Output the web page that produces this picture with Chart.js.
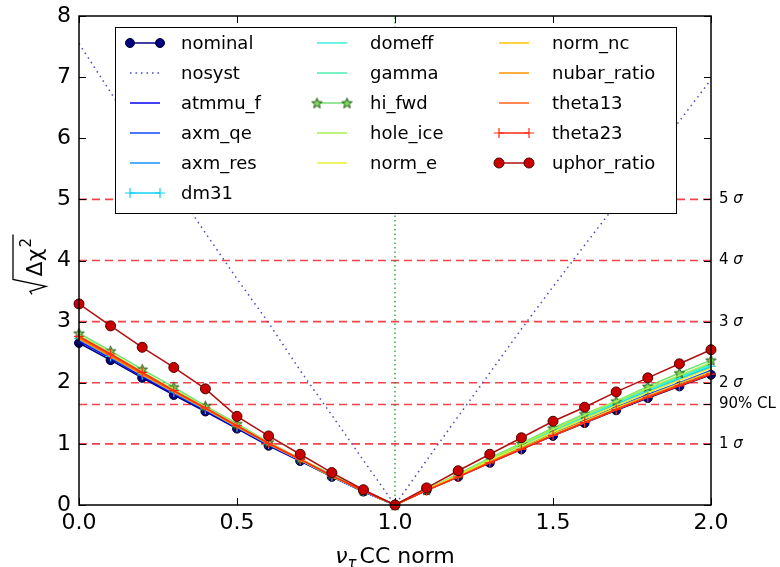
<!DOCTYPE html>
<html>
<head>
<title>nu_tau CC norm scan</title>
<script src="https://cdn.jsdelivr.net/npm/chart.js"></script>
<style>
  html, body { margin: 0; padding: 0; background: #fff; }
  #wrap { width: 780px; height: 567px; }
</style>
</head>
<body>
<div id="wrap"><canvas id="scan" width="780" height="567"></canvas></div>
<script>
// scan points on the nu_tau CC normalisation
const xValues = [0.0, 0.1, 0.2, 0.3, 0.4, 0.5, 0.6, 0.7, 0.8, 0.9, 1.0, 1.1, 1.2, 1.3, 1.4, 1.5, 1.6, 1.7, 1.8, 1.9, 2.0];

// sqrt(delta chi2) per systematic
const nominal     = [2.65, 2.37, 2.08, 1.80, 1.53, 1.25, 0.97, 0.72, 0.46, 0.22, 0, 0.24, 0.46, 0.69, 0.91, 1.13, 1.34, 1.55, 1.75, 1.94, 2.13];
const nosyst      = [7.55, 6.75, 5.98, 5.22, 4.45, 3.70, 2.98, 2.20, 1.47, 0.73, 0, 0.73, 1.45, 2.16, 2.88, 3.57, 4.25, 4.92, 5.60, 6.28, 6.96];
const atmmu_f     = [2.68, 2.40, 2.10, 1.82, 1.55, 1.26, 0.98, 0.73, 0.47, 0.22, 0, 0.24, 0.47, 0.70, 0.92, 1.15, 1.36, 1.57, 1.77, 1.97, 2.16];
const axm_qe      = [2.70, 2.41, 2.12, 1.83, 1.56, 1.27, 0.99, 0.73, 0.47, 0.22, 0, 0.25, 0.48, 0.71, 0.94, 1.17, 1.38, 1.60, 1.81, 2.00, 2.20];
const axm_res     = [2.71, 2.42, 2.13, 1.84, 1.56, 1.28, 0.99, 0.74, 0.47, 0.22, 0, 0.25, 0.49, 0.73, 0.96, 1.19, 1.42, 1.64, 1.85, 2.05, 2.25];
const dm31        = [2.72, 2.43, 2.13, 1.85, 1.57, 1.28, 1.00, 0.74, 0.47, 0.23, 0, 0.26, 0.49, 0.74, 0.97, 1.20, 1.43, 1.65, 1.86, 2.07, 2.27];
const domeff      = [2.74, 2.45, 2.15, 1.86, 1.58, 1.29, 1.00, 0.74, 0.48, 0.23, 0, 0.26, 0.49, 0.74, 0.98, 1.21, 1.44, 1.67, 1.88, 2.09, 2.29];
const gamma       = [2.76, 2.47, 2.17, 1.87, 1.59, 1.30, 1.01, 0.75, 0.48, 0.23, 0, 0.26, 0.50, 0.75, 0.99, 1.23, 1.45, 1.68, 1.90, 2.10, 2.31];
const hi_fwd      = [2.81, 2.52, 2.22, 1.93, 1.62, 1.33, 1.03, 0.76, 0.50, 0.24, 0, 0.25, 0.51, 0.77, 1.01, 1.26, 1.49, 1.70, 1.94, 2.16, 2.37];
const hole_ice    = [2.78, 2.49, 2.18, 1.89, 1.60, 1.31, 1.02, 0.76, 0.48, 0.23, 0, 0.26, 0.50, 0.75, 1.00, 1.24, 1.47, 1.70, 1.91, 2.12, 2.33];
const norm_e      = [2.75, 2.46, 2.16, 1.87, 1.59, 1.30, 1.01, 0.75, 0.48, 0.23, 0, 0.25, 0.48, 0.73, 0.96, 1.19, 1.41, 1.63, 1.84, 2.04, 2.24];
const norm_nc     = [2.73, 2.44, 2.14, 1.85, 1.58, 1.29, 1.00, 0.74, 0.47, 0.23, 0, 0.25, 0.47, 0.71, 0.93, 1.16, 1.37, 1.59, 1.79, 1.99, 2.18];
const nubar_ratio = [2.72, 2.43, 2.13, 1.85, 1.57, 1.28, 1.00, 0.74, 0.47, 0.23, 0, 0.24, 0.46, 0.70, 0.92, 1.14, 1.35, 1.56, 1.77, 1.96, 2.15];
const theta13     = [2.74, 2.45, 2.15, 1.86, 1.58, 1.29, 1.00, 0.74, 0.48, 0.23, 0, 0.24, 0.46, 0.70, 0.92, 1.14, 1.35, 1.56, 1.77, 1.96, 2.15];
const theta23     = [2.76, 2.47, 2.17, 1.87, 1.59, 1.30, 1.01, 0.75, 0.48, 0.23, 0, 0.24, 0.46, 0.69, 0.91, 1.14, 1.35, 1.56, 1.76, 1.95, 2.14];
const uphor_ratio = [3.29, 2.93, 2.58, 2.25, 1.90, 1.45, 1.13, 0.83, 0.53, 0.25, 0, 0.28, 0.56, 0.83, 1.10, 1.37, 1.60, 1.85, 2.08, 2.31, 2.54];

// significance lines and their labels on the right
const sigmaLevels = [1, 1.645, 2, 3, 4, 5];
const sigmaLabels = ['1 σ', '90% CL', '2 σ', '3 σ', '4 σ', '5 σ'];
const bestFit = 1.0;

const xTicks = [0, 0.5, 1, 1.5, 2];
const yTicks = [0, 1, 2, 3, 4, 5, 6, 7, 8];

const FONT = 'DejaVu Sans';

// filled star like matplotlib '*'
function starImage(size, fill, edge) {
  const c = document.createElement('canvas');
  c.width = c.height = size;
  const g = c.getContext('2d');
  const r = size / 2 - 1, ri = r * 0.42, cx = size / 2, cy = size / 2 + 0.5;
  g.beginPath();
  for (let k = 0; k < 10; k++) {
    const a = -Math.PI / 2 + k * Math.PI / 5;
    const rr = k % 2 ? ri : r;
    g.lineTo(cx + rr * Math.cos(a), cy + rr * Math.sin(a));
  }
  g.closePath();
  g.fillStyle = fill; g.fill();
  g.strokeStyle = edge; g.lineWidth = 1; g.stroke();
  return c;
}
const star = starImage(13, '#7fd860', '#1f5a10');

function pts(arr) {
  return xValues.map((x, i) => ({ x: x, y: arr[i] }));
}

// name, values, color, extra style
const series = [
  ['nominal', nominal, '#00007f', { pointStyle: 'circle', pointRadius: 4.5, pointBackgroundColor: '#00007f', pointBorderColor: '#000030', pointBorderWidth: 1 }],
  ['nosyst', nosyst, '#4848c8', { borderDash: [1.5, 4] }],
  ['atmmu_f', atmmu_f, '#0000f0', {}],
  ['axm_qe', axm_qe, '#1048ff', {}],
  ['axm_res', axm_res, '#1890ff', {}],
  ['dm31', dm31, '#10d0f0', { pointStyle: 'cross', pointRadius: 5, pointBorderWidth: 1.2 }],
  ['domeff', domeff, '#40f0e0', {}],
  ['gamma', gamma, '#50eeb0', {}],
  ['hi_fwd', hi_fwd, '#70e070', { pointStyle: star, pointRadius: 6 }],
  ['hole_ice', hole_ice, '#a8f050', {}],
  ['norm_e', norm_e, '#e4f030', {}],
  ['norm_nc', norm_nc, '#ffc400', {}],
  ['nubar_ratio', nubar_ratio, '#ff9400', {}],
  ['theta13', theta13, '#ff6018', {}],
  ['theta23', theta23, '#ff2a10', { pointStyle: 'cross', pointRadius: 5, pointBorderWidth: 1.2 }],
  ['uphor_ratio', uphor_ratio, '#b01010', { pointStyle: 'circle', pointRadius: 5, pointBackgroundColor: '#c80000', pointBorderColor: '#500000', pointBorderWidth: 1 }]
];

const datasets = [];
series.forEach((s, i) => {
  datasets.push(Object.assign({
    label: s[0],
    data: pts(s[1]),
    borderColor: s[2],
    backgroundColor: s[2],
    borderWidth: 1.5,
    pointRadius: 0,
    pointHoverRadius: 0,
    tension: 0,
    clip: false,
    order: series.length - i
  }, s[3]));
});

// red dashed reference lines
sigmaLevels.forEach(v => {
  datasets.push({
    label: 'ref', isRef: true,
    data: [{ x: 0, y: v }, { x: 2, y: v }],
    borderColor: 'rgba(240,20,30,0.8)', borderWidth: 1.6, borderDash: [8, 5],
    pointRadius: 0, order: 100
  });
});
// best fit vertical
datasets.push({
  label: 'ref', isRef: true,
  data: [{ x: bestFit, y: 0 }, { x: bestFit, y: 8 }],
  borderColor: '#109010', borderWidth: 1.2, borderDash: [1.5, 3],
  pointRadius: 0, order: 99
});

function drawMarker(ctx, ds, x, y) {
  const ps = ds.pointStyle;
  if (!ps || !ds.pointRadius) return;
  ctx.save();
  if (ps === 'circle') {
    ctx.beginPath();
    ctx.arc(x, y, ds.pointRadius, 0, Math.PI * 2);
    ctx.fillStyle = ds.pointBackgroundColor;
    ctx.fill();
    ctx.lineWidth = ds.pointBorderWidth;
    ctx.strokeStyle = ds.pointBorderColor;
    ctx.stroke();
  } else if (ps === 'cross') {
    const r = ds.pointRadius;
    ctx.beginPath();
    ctx.moveTo(x - r, y); ctx.lineTo(x + r, y);
    ctx.moveTo(x, y - r); ctx.lineTo(x, y + r);
    ctx.strokeStyle = ds.borderColor;
    ctx.lineWidth = 1.2;
    ctx.stroke();
  } else {
    ctx.drawImage(ps, x - ps.width / 2, y - ps.height / 2);
  }
  ctx.restore();
}

const decor = {
  id: 'decor',
  afterDraw(chart) {
    const ctx = chart.ctx;
    const a = chart.chartArea;
    const xs = chart.scales.x, ys = chart.scales.y;
    ctx.save();

    // frame
    ctx.strokeStyle = '#000';
    ctx.lineWidth = 1.5;
    ctx.strokeRect(a.left, a.top, a.right - a.left, a.bottom - a.top);

    // inward ticks
    ctx.lineWidth = 1;
    ctx.beginPath();
    yTicks.forEach(v => {
      const py = Math.round(ys.getPixelForValue(v)) + 0.5;
      ctx.moveTo(a.left, py); ctx.lineTo(a.left + 7, py);
      ctx.moveTo(a.right, py); ctx.lineTo(a.right - 7, py);
    });
    const p90 = Math.round(ys.getPixelForValue(1.645)) + 0.5;
    ctx.moveTo(a.right, p90); ctx.lineTo(a.right - 7, p90);
    xTicks.forEach(v => {
      const px = Math.round(xs.getPixelForValue(v)) + 0.5;
      ctx.moveTo(px, a.bottom); ctx.lineTo(px, a.bottom - 7);
      ctx.moveTo(px, a.top); ctx.lineTo(px, a.top + 7);
    });
    ctx.stroke();

    // right-hand significance labels
    ctx.fillStyle = '#000';
    ctx.textBaseline = 'middle';
    ctx.textAlign = 'left';
    sigmaLevels.forEach((v, i) => {
      const py = ys.getPixelForValue(v);
      const lab = sigmaLabels[i];
      if (lab.endsWith('σ')) {
        const num = lab.slice(0, -1);
        ctx.font = '15px "' + FONT + '"';
        ctx.fillText(num, a.right + 8, py);
        const w = ctx.measureText(num).width;
        ctx.font = 'italic 15px "' + FONT + '"';
        ctx.fillText('σ', a.right + 8 + w, py);
      } else {
        ctx.font = '15px "' + FONT + '"';
        ctx.fillText(lab, a.right + 8, py);
      }
    });

    // legend, three columns filled top to bottom
    const box = { x: 115, y: 27, w: 561, h: 186 };
    ctx.fillStyle = '#fff';
    ctx.fillRect(box.x, box.y, box.w, box.h);
    ctx.strokeStyle = '#000';
    ctx.lineWidth = 1;
    ctx.strokeRect(box.x + 0.5, box.y + 0.5, box.w, box.h);
    const cols = [[0, 6, 130, 181], [6, 11, 317, 370], [11, 16, 499, 552]];
    ctx.font = '18px "' + FONT + '"';
    ctx.textBaseline = 'middle';
    cols.forEach(c => {
      for (let k = c[0]; k < c[1]; k++) {
        const ds = chart.data.datasets[k];
        const y = 43 + (k - c[0]) * 30;
        const x0 = c[2], x1 = c[2] + 30;
        ctx.save();
        ctx.strokeStyle = ds.borderColor;
        ctx.lineWidth = ds.borderWidth;
        ctx.setLineDash(ds.borderDash || []);
        ctx.beginPath();
        ctx.moveTo(x0, y); ctx.lineTo(x1, y);
        ctx.stroke();
        ctx.restore();
        drawMarker(ctx, ds, x0, y);
        drawMarker(ctx, ds, x1, y);
        ctx.fillStyle = '#000';
        ctx.fillText(ds.label, c[3], y + 1);
      }
    });

    // x title: nu_tau CC norm
    const cx = (a.left + a.right) / 2;
    const base = 563;
    ctx.textBaseline = 'alphabetic';
    ctx.font = 'italic 22px "' + FONT + '"';
    const wNu = ctx.measureText('ν').width;
    ctx.font = 'italic 15px "' + FONT + '"';
    const wTau = ctx.measureText('τ').width;
    ctx.font = '22px "' + FONT + '"';
    const wRest = ctx.measureText('CC norm').width;
    let x = cx - (wNu + wTau + 3 + wRest) / 2;
    ctx.font = 'italic 22px "' + FONT + '"';
    ctx.fillText('ν', x, base);
    x += wNu;
    ctx.font = 'italic 15px "' + FONT + '"';
    ctx.fillText('τ', x, base + 5);
    x += wTau + 3;
    ctx.font = '22px "' + FONT + '"';
    ctx.fillText('CC norm', x, base);

    // y title: sqrt(delta chi^2)
    ctx.save();
    ctx.translate(42, (a.top + a.bottom) / 2 + 2);
    ctx.rotate(-Math.PI / 2);
    ctx.font = '22px "' + FONT + '"';
    const wDc = ctx.measureText('Δχ').width;
    const u0 = -(wDc + 28) / 2;
    ctx.strokeStyle = '#000';
    ctx.lineWidth = 1.3;
    ctx.beginPath();
    ctx.moveTo(u0 - 4, -10);
    ctx.lineTo(u0 - 1, -12);
    ctx.lineTo(u0 + 4, 4);
    ctx.lineTo(u0 + 11, -29);
    ctx.lineTo(u0 + 14 + wDc + 14, -29);
    ctx.stroke();
    ctx.fillStyle = '#000';
    ctx.fillText('Δχ', u0 + 14, 0);
    ctx.font = '15px "' + FONT + '"';
    ctx.fillText('2', u0 + 14 + wDc + 1, -11);
    ctx.restore();

    ctx.restore();
  }
};

new Chart(document.getElementById('scan'), {
  type: 'line',
  data: { datasets: datasets },
  options: {
    responsive: false,
    animation: false,
    devicePixelRatio: 1,
    layout: { padding: { top: 16, right: 69, left: 0, bottom: 0 } },
    plugins: { legend: { display: false }, tooltip: { enabled: false } },
    scales: {
      x: {
        type: 'linear', min: 0, max: 2,
        grid: { display: false, drawTicks: false },
        border: { display: false },
        ticks: {
          stepSize: 0.5, maxRotation: 0, autoSkip: false, padding: 5, color: '#000',
          font: { family: FONT, size: 22 },
          callback: v => v.toFixed(1)
        },
        afterFit: s => { s.height = 62; s.paddingLeft = 0; s.paddingRight = 0; }
      },
      y: {
        min: 0, max: 8,
        grid: { display: false, drawTicks: false },
        border: { display: false },
        ticks: {
          stepSize: 1, padding: 8, color: '#000',
          font: { family: FONT, size: 22 }
        },
        afterFit: s => { s.width = 79; s.paddingTop = 0; s.paddingBottom = 0; }
      }
    }
  },
  plugins: [decor]
});
</script>
</body>
</html>
